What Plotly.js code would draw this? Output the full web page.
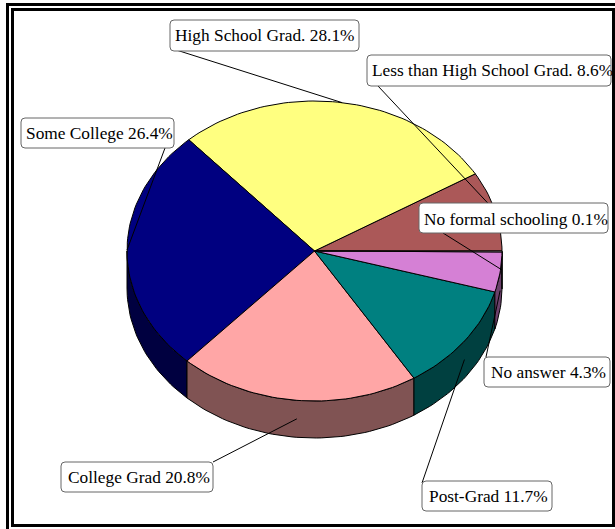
<!DOCTYPE html>
<html><head><meta charset="utf-8">
<script src="https://cdn.plot.ly/plotly-3.0.1.min.js"></script>
<style>html,body{margin:0;padding:0;background:#fff}#c{width:615px;height:529px}</style>
</head><body><div id="c"></div>
<script>
const categories = ["Less than High School Grad.","High School Grad.","Some College","College Grad","Post-Grad","No answer","No formal schooling"];
const percents = [8.6,28.1,26.4,20.8,11.7,4.3,0.1];
const topColors = ["#AB5858","#FFFF80","#000080","#FFA6A6","#008080","#D580D5","#FFFFFF"];
const sideColors = ["#552C2C","#808040","#000040","#805353","#004040","#6B406B","#808080"];
const boxes = [[367,55,611,86],[170,20,359,51],[21,118,174,148],[61,462,213,492],[422,481,552,511],[484,357,610,387],[419,203,608,233]];
const anchors = [[378,86],[170,48],[165,148],[213,462],[422,483],[486,357],[443,233]];
const textLeft = [370.5,174,25,67,427.5,489.5,422.5];
const textMid = [70,35,133.5,477.5,496.5,372.5,219];
const cx=314.5, cy=251, rx=187.5, ry=150, depth=37;
const rad=d=>d*Math.PI/180;
const px=a=>cx+rx*Math.cos(rad(a));
const py=a=>cy-ry*Math.sin(rad(a));
const traces=[];
function arc(a,b){const xs=[],ys=[];const n=Math.max(2,Math.ceil((b-a)/1.5));for(let i=0;i<=n;i++){const t=a+(b-a)*i/n;xs.push(px(t));ys.push(py(t));}return [xs,ys];}
let start=0;const spans=percents.map(p=>{const s=[start,start+p*3.6];start=s[1];return s;});
// sides
spans.forEach((s,i)=>{
  const a=Math.max(s[0],180),b=Math.min(s[1],360);
  if(b<=a)return;
  const [xs,ys]=arc(a,b);
  traces.push({type:'scatter',mode:'lines',x:xs.concat(xs.slice().reverse(),[xs[0]]),y:ys.concat(ys.slice().reverse().map(v=>v+depth),[ys[0]]),fill:'toself',fillcolor:sideColors[i],line:{color:'#000',width:1},name:categories[i]+' side',hoverinfo:'skip'});
});
// tops
spans.forEach((s,i)=>{
  const [xs,ys]=arc(s[0],s[1]);
  traces.push({type:'scatter',mode:'lines',x:[cx].concat(xs,[cx]),y:[cy].concat(ys,[cy]),fill:'toself',fillcolor:topColors[i],line:{color:'#000',width:1},name:categories[i],hoverinfo:'skip'});
});
// leaders
spans.forEach((s,i)=>{
  const m=(s[0]+s[1])/2; const low=m>180;
  traces.push({type:'scatter',mode:'lines',x:[anchors[i][0],px(m)],y:[anchors[i][1],py(m)+(low?depth/2:0)],line:{color:'#000',width:1},hoverinfo:'skip',name:categories[i]+' leader'});
});
const rr=(b,r)=>{const [l,t,R,B]=b;return `M${l+r},${t}L${R-r},${t}Q${R},${t} ${R},${t+r}L${R},${B-r}Q${R},${B} ${R-r},${B}L${l+r},${B}Q${l},${B} ${l},${B-r}L${l},${t+r}Q${l},${t} ${l+r},${t}Z`;};
const shapes=boxes.map(b=>({type:'path',path:rr(b,4),xref:'x',yref:'y',fillcolor:'#fff',line:{color:'#666',width:1},layer:'above'}));
const frame=(l,t,r,b,w)=>({type:'rect',xref:'x',yref:'y',x0:l,y0:t,x1:r,y1:b,line:{color:'#000',width:w},fillcolor:'rgba(0,0,0,0)',layer:'above'});
shapes.push(frame(7.5,4.5,640,560,3),frame(12.5,9.5,613.5,525.5,3));
const annotations=categories.map((c,i)=>({xref:'x',yref:'y',x:textLeft[i],y:textMid[i],xanchor:'left',yanchor:'middle',showarrow:false,text:c+' '+percents[i].toFixed(1)+'%',font:{family:'"Liberation Serif",serif',size:17.33,color:'#000'},borderpad:0}));
Plotly.newPlot('c',traces,{width:615,height:529,margin:{l:0,r:0,t:0,b:0},paper_bgcolor:'#fff',plot_bgcolor:'#fff',showlegend:false,
 xaxis:{range:[0,615],visible:false,fixedrange:true},yaxis:{range:[529,0],visible:false,fixedrange:true},shapes,annotations},{displayModeBar:false,staticPlot:true});
</script></body></html>
